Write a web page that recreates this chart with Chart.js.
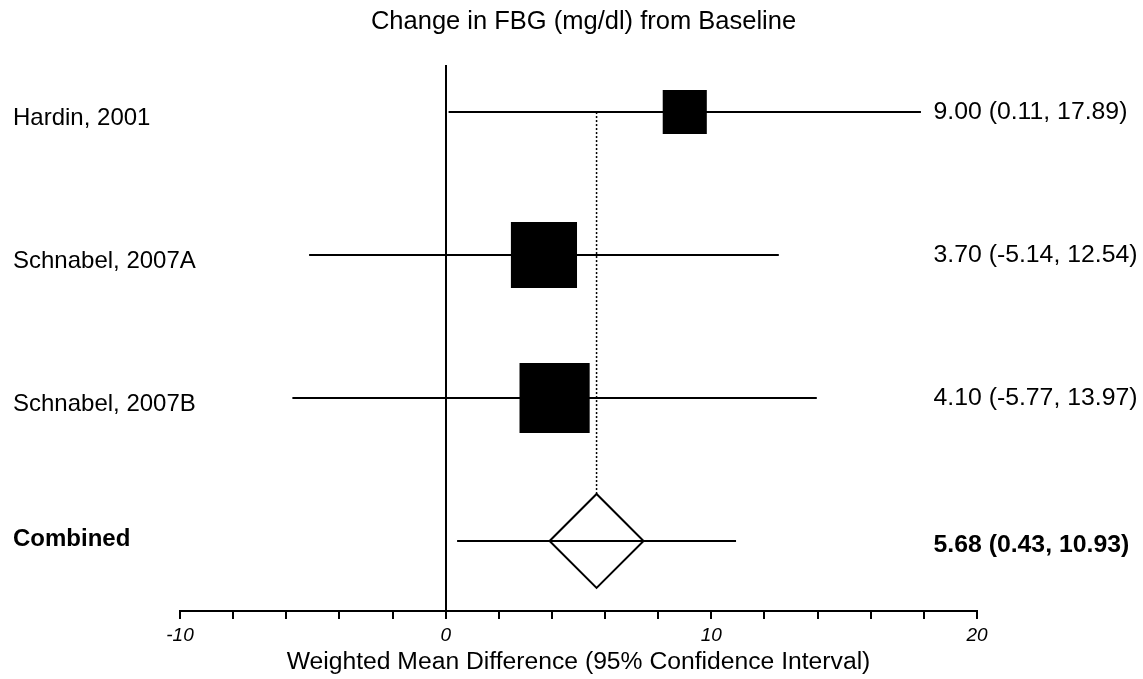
<!DOCTYPE html>
<html>
<head>
<meta charset="utf-8">
<script src="https://cdn.jsdelivr.net/npm/chart.js"></script>
<style>
  html, body { margin: 0; padding: 0; background: #fff; }
  #wrap { width: 1143px; height: 679px; }
</style>
</head>
<body>
<div id="wrap"><canvas id="forest"></canvas></div>
<script>
// Dados
const estudos = ["Hardin, 2001", "Schnabel, 2007A", "Schnabel, 2007B", "Combined"];
const estimativas = [9.00, 3.70, 4.10, 5.68];
const limiteInferior = [0.11, -5.14, -5.77, 0.43];
const limiteSuperior = [17.89, 12.54, 13.97, 10.93];
const pesos = [17.3, 38.9, 43.8]; // % (estimado pelo tamanho dos quadrados)
const ticksX = [-10, 0, 10, 20];

const linhaComb = estudos.length - 1;
const fmt = v => v.toFixed(2);
const textosDireita = estimativas.map((e, i) =>
  fmt(e) + " (" + fmt(limiteInferior[i]) + ", " + fmt(limiteSuperior[i]) + ")");

const FONTE = "Arial, 'Liberation Sans', sans-serif";
const ALT_LINHA = 143; // px entre linhas, só para ajustar os rótulos

// Linhas dos intervalos de confiança
const datasetsIC = estudos.map((_, i) => ({
  type: "line",
  data: [{ x: limiteInferior[i], y: i }, { x: limiteSuperior[i], y: i }],
  borderColor: "#000",
  borderWidth: 2,
  pointRadius: 0,
  order: 0
}));

const datasets = [
  ...datasetsIC,
  {
    // quadrados dos estudos
    type: "scatter",
    data: pesos.map((_, i) => ({ x: estimativas[i], y: i })),
    pointStyle: "rect",
    pointRadius: pesos.map(p => 106 * Math.sqrt(p / 100) / (2 * Math.SQRT1_2)),
    backgroundColor: "#000",
    borderColor: "#000",
    borderWidth: 0,
    order: 1
  },
  {
    // losango do resultado combinado
    type: "scatter",
    data: [{ x: estimativas[linhaComb], y: linhaComb }],
    pointStyle: "rectRot",
    pointRadius: 47,
    backgroundColor: "#fff",
    borderColor: "#000",
    borderWidth: 2,
    order: 2
  },
  {
    // linha pontilhada do efeito combinado
    type: "line",
    data: [{ x: estimativas[linhaComb], y: 0 }, { x: estimativas[linhaComb], y: linhaComb }],
    borderColor: "#000",
    borderWidth: 1.5,
    borderDash: [2, 2],
    pointRadius: 0,
    order: 3
  }
];

const yMin = -0.329, yMax = 3.49;
// desloca um pouco os rótulos como no original
const ticksLinhas = (dyEstudo, dyComb) => scale => {
  scale.ticks = estudos.map((_, i) => ({
    value: i + (i === linhaComb ? dyComb : dyEstudo) / ALT_LINHA
  }));
};
const fonteLinha = tam => c => ({ family: FONTE, size: tam, weight: c.index === linhaComb ? "bold" : "normal" });
// largura fixa do eixo e sem folga vertical extra
const fixaEixo = largura => s => { s.width = largura; s.paddingTop = 0; s.paddingBottom = 0; };

new Chart(document.getElementById("forest"), {
  type: "scatter",
  data: { datasets },
  options: {
    responsive: true,
    maintainAspectRatio: false,
    animation: false,
    layout: { padding: { left: 24, right: 0, top: 0, bottom: 0 } },
    plugins: {
      legend: { display: false },
      tooltip: { enabled: false },
      title: {
        display: true,
        text: "Change in FBG (mg/dl) from Baseline",
        color: "#000",
        font: { family: FONTE, size: 25.5, weight: "normal" },
        padding: { top: 6.7, bottom: 27.7 }
      }
    },
    scales: {
      x: {
        type: "linear",
        min: -10,
        max: 20,
        afterFit: s => { s.height = 68; },
        afterBuildTicks: s => {
          s.ticks = [];
          for (let v = -10; v <= 20; v += 2) s.ticks.push({ value: v });
        },
        border: { display: true, color: "#000", width: 2 },
        grid: {
          color: c => (c.tick && c.tick.value === 0 ? "#000" : "rgba(0,0,0,0)"),
          lineWidth: 2,
          drawTicks: true,
          tickLength: 8,
          tickColor: "#000",
          tickWidth: 2
        },
        ticks: {
          autoSkip: false,
          maxRotation: 0,
          padding: 5,
          color: "#000",
          font: { family: FONTE, size: 19, style: "italic" },
          callback: v => (ticksX.includes(v) ? String(v) : "")
        },
        title: {
          display: true,
          text: "Weighted Mean Difference (95% Confidence Interval)",
          color: "#000",
          font: { family: FONTE, size: 24.7 },
          padding: { top: 0, bottom: 2.2 }
        }
      },
      y: {
        type: "linear",
        position: "left",
        reverse: true,
        min: yMin,
        max: yMax,
        afterFit: fixaEixo(156),
        afterBuildTicks: ticksLinhas(6.5, -2),
        border: { display: false },
        grid: { display: false, drawTicks: false },
        ticks: {
          mirror: true,
          crossAlign: "near",
          padding: -167,
          color: "#000",
          font: fonteLinha(24),
          callback: v => estudos[Math.round(v)]
        }
      },
      y2: {
        type: "linear",
        position: "right",
        reverse: true,
        min: yMin,
        max: yMax,
        afterFit: fixaEixo(166),
        afterBuildTicks: ticksLinhas(0, 4),
        border: { display: false },
        grid: { display: false, drawTicks: false },
        ticks: {
          mirror: true,
          crossAlign: "far",
          padding: 160.5,
          color: "#000",
          font: fonteLinha(24.8),
          callback: v => textosDireita[Math.round(v)]
        }
      }
    }
  }
});
</script>
</body>
</html>
